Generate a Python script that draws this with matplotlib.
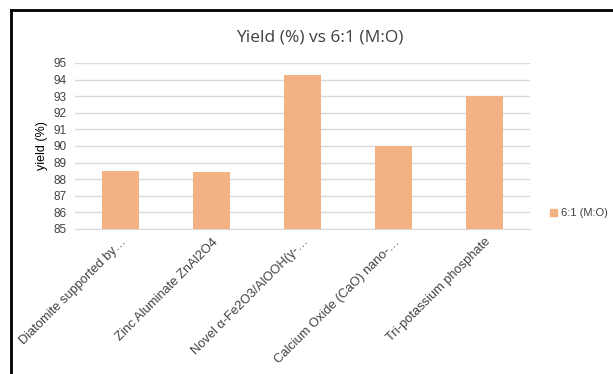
import matplotlib
matplotlib.use('Agg')
import matplotlib.pyplot as plt
import matplotlib.transforms as mtransforms
from matplotlib.lines import Line2D
from matplotlib.patches import Rectangle

# data
categories = ['Diatomite supported by…', 'Zinc Aluminate ZnAl2O4',
              'Novel α-Fe2O3/AlOOH(γ-…', 'Calcium Oxide (CaO) nano-…',
              'Tri-potassium phosphate']
yields = [88.5, 88.45, 94.3, 90.0, 93.0]
series_name = '6:1 (M:O)'
y_ticks = list(range(85, 96))

bar_color = '#F4B183'
grid_color = '#D9D9D9'
text_color = '#404040'

plt.rcParams['font.family'] = ['Liberation Sans', 'DejaVu Sans']

W, H = 613, 374
fig = plt.figure(figsize=(W / 100, H / 100), dpi=100)
ax = fig.add_axes([75 / W, 1 - 229 / H, 455 / W, (229 - 63) / H])

x = range(len(categories))
ax.bar(x, [v - 85 for v in yields], bottom=85, width=0.4, color=bar_color,
       label=series_name, zorder=3)

ax.set_xlim(-0.5, len(categories) - 0.5)
ax.set_ylim(85, 95)
ax.set_yticks(y_ticks)
ax.set_yticklabels([str(t) for t in y_ticks], fontsize=8.5, color=text_color)
ax.yaxis.grid(True, color=grid_color, linewidth=1, zorder=0)
ax.tick_params(axis='both', length=0, pad=6)
for s in ['top', 'right', 'left']:
    ax.spines[s].set_visible(False)
ax.spines['bottom'].set_color(grid_color)
ax.spines['bottom'].set_zorder(0)

ax.set_xticks(list(x))
ax.set_xticklabels(categories, rotation=45, ha='right', rotation_mode='anchor',
                   fontsize=9.3, color=text_color)
# nudge the rotated labels a little to the right, like the original
shift = mtransforms.ScaledTranslation(6 / 100, 0, fig.dpi_scale_trans)
for lbl in ax.get_xticklabels():
    lbl.set_transform(lbl.get_transform() + shift)
ax.tick_params(axis='x', pad=5)

ax.set_ylabel('yield (%)', fontsize=9, color='black', labelpad=4)

fig.text(320 / W, 1 - 38 / H, 'Yield (%) vs 6:1 (M:O)', ha='center', va='center',
         fontsize=12.5, color=text_color, family=['Open Sans', 'DejaVu Sans'])

# legend
fig.patches.append(Rectangle((550 / W, 1 - 216 / H), 7 / W, 7 / H,
                             transform=fig.transFigure, color=bar_color))
fig.text(561 / W, 1 - 212.5 / H, series_name, ha='left', va='center',
         fontsize=8, color=text_color)

# frame lines from the screenshot
fig.add_artist(Line2D([11 / W, 11 / W], [0, 1 - 10 / H], color='black', linewidth=2,
                      transform=fig.transFigure))
fig.add_artist(Line2D([11 / W, 1], [1 - 10 / H, 1 - 10 / H], color='black', linewidth=2,
                      transform=fig.transFigure))

fig.savefig('out.png', dpi=100)
